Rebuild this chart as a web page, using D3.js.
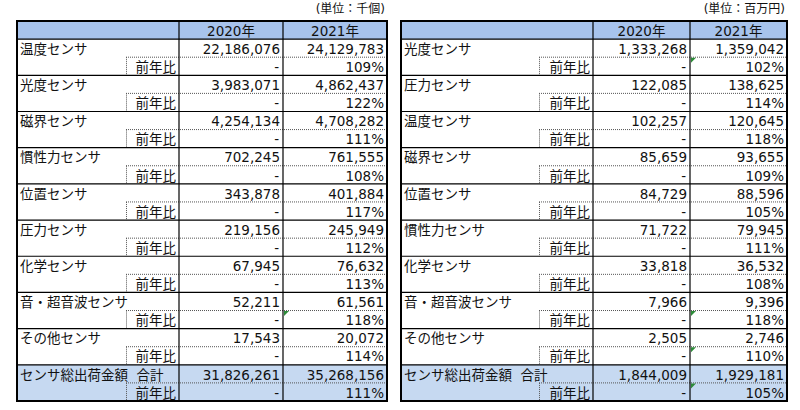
<!DOCTYPE html>
<html>
<head>
<meta charset="utf-8">
<script src="https://cdn.jsdelivr.net/npm/d3@7"></script>
<style>
  body { margin: 0; background: #fff; }
  svg text { font-family: "DejaVu Sans", "Noto Sans CJK JP", sans-serif; font-size: 13.5px; fill: #111; white-space: pre; }
</style>
</head>
<body>
<svg id="chart" width="800" height="410"></svg>
<script>
// 出荷数量 (千個)
const qtyNames = ['温度センサ', '光度センサ', '磁界センサ', '慣性力センサ', '位置センサ', '圧力センサ', '化学センサ', '音・超音波センサ', 'その他センサ'];
const qty2020 = [22186076, 3983071, 4254134, 702245, 343878, 219156, 67945, 52211, 17543];
const qty2021 = [24129783, 4862437, 4708282, 761555, 401884, 245949, 76632, 61561, 20072];
const qtyRatio = [109, 122, 111, 108, 117, 112, 113, 118, 114];
const qtyTotal = [31826261, 35268156];
const qtyTotalRatio = 111;
const qtyFlags = [7];          // rows with green marker on 2021 前年比

// 出荷金額 (百万円)
const amtNames = ['光度センサ', '圧力センサ', '温度センサ', '磁界センサ', '位置センサ', '慣性力センサ', '化学センサ', '音・超音波センサ', 'その他センサ'];
const amt2020 = [1333268, 122085, 102257, 85659, 84729, 71722, 33818, 7966, 2505];
const amt2021 = [1359042, 138625, 120645, 93655, 88596, 79945, 36532, 9396, 2746];
const amtRatio = [102, 114, 118, 109, 105, 111, 108, 118, 110];
const amtTotal = [1844009, 1929181];
const amtTotalRatio = 105;
const amtFlags = [0, 7, 8, 9];

const years = ['2020年', '2021年'];
const totalLabel = 'センサ総出荷金額  合計';
const ratioLabel = '前年比';

const svg = d3.select('#chart');
const fmt = d3.format(',');

function drawTable(opt) {
  const g = svg.append('g');
  const nRows = 1 + (opt.names.length + 1) * 2;
  const y = d3.scaleLinear().domain([0, nRows]).range([21, 401]);
  const x = opt.cols; // [left, sub, c1, c2, right]
  const rh = y(1) - y(0);

  // unit note
  g.append('text')
    .attr('x', x[4] - 2).attr('y', 13)
    .attr('text-anchor', 'end')
    .style('font-size', '12px')
    .text(opt.unit);

  // header fill
  g.append('rect')
    .attr('x', x[0]).attr('y', y(0))
    .attr('width', x[4] - x[0]).attr('height', rh)
    .attr('fill', '#a7c3ec');

  // total fill
  const tIdx = opt.names.length;
  g.append('rect')
    .attr('x', x[0]).attr('y', y(1 + tIdx * 2))
    .attr('width', x[4] - x[0]).attr('height', rh * 2)
    .attr('fill', '#c6d9f1');

  years.forEach((yr, i) => {
    g.append('text')
      .attr('x', (x[2 + i] + x[3 + i]) / 2).attr('y', y(0.5) + 1)
      .attr('dy', '0.35em').attr('text-anchor', 'middle')
      .text(yr);
  });

  const rows = opt.names.map((n, i) => ({
    name: n, a: opt.v2020[i], b: opt.v2021[i], r: opt.ratio[i]
  }));
  rows.push({ name: totalLabel, a: opt.total[0], b: opt.total[1], r: opt.totalRatio });

  rows.forEach((d, i) => {
    const r0 = 1 + i * 2;
    const ty = y(r0 + 0.5) + 1;
    const ty2 = y(r0 + 1.5) + 1;
    g.append('text').attr('x', x[0] + 3).attr('y', ty).attr('dy', '0.35em').text(d.name);
    g.append('text').attr('x', x[2] - 3).attr('y', ty2).attr('dy', '0.35em')
      .attr('text-anchor', 'end').text(ratioLabel);
    g.append('text').attr('x', x[3] - 3).attr('y', ty).attr('dy', '0.35em')
      .attr('text-anchor', 'end').text(fmt(d.a));
    g.append('text').attr('x', x[4] - 3).attr('y', ty).attr('dy', '0.35em')
      .attr('text-anchor', 'end').text(fmt(d.b));
    g.append('text').attr('x', x[3] - 4).attr('y', ty2).attr('dy', '0.35em')
      .attr('text-anchor', 'end').text('-');
    g.append('text').attr('x', x[4] - 3).attr('y', ty2).attr('dy', '0.35em')
      .attr('text-anchor', 'end').text(d.r + '%');

    // dotted lines for 前年比 sub row
    g.append('line')
      .attr('x1', x[1]).attr('x2', x[4])
      .attr('y1', y(r0 + 1)).attr('y2', y(r0 + 1))
      .attr('stroke', '#555').attr('stroke-dasharray', '1,1');
    g.append('line')
      .attr('x1', x[1] + 0.5).attr('x2', x[1] + 0.5)
      .attr('y1', y(r0 + 1)).attr('y2', y(r0 + 2))
      .attr('stroke', '#555').attr('stroke-dasharray', '1,1');

    // solid group separators
    g.append('line')
      .attr('x1', x[0]).attr('x2', x[4])
      .attr('y1', y(r0)).attr('y2', y(r0))
      .attr('stroke', '#000').attr('stroke-width', 1.2);

    if (opt.flags.includes(i)) {
      const fx = x[3] + 1, fy = y(r0 + 1) + 0.5;
      g.append('path')
        .attr('d', `M${fx},${fy}L${fx + 5},${fy}L${fx},${fy + 5}Z`)
        .attr('fill', '#2e8b3a');
    }
  });

  // vertical column lines
  [x[2], x[3]].forEach(cx => {
    g.append('line')
      .attr('x1', cx).attr('x2', cx)
      .attr('y1', y(0)).attr('y2', y(nRows))
      .attr('stroke', '#000').attr('stroke-width', 1.2);
  });

  // outer border
  g.append('rect')
    .attr('x', x[0]).attr('y', y(0))
    .attr('width', x[4] - x[0]).attr('height', y(nRows) - y(0))
    .attr('fill', 'none').attr('stroke', '#000').attr('stroke-width', 2);
}

drawTable({
  names: qtyNames, v2020: qty2020, v2021: qty2021, ratio: qtyRatio,
  total: qtyTotal, totalRatio: qtyTotalRatio, flags: qtyFlags,
  unit: '(単位：千個)', cols: [17, 126, 179, 283, 387]
});

drawTable({
  names: amtNames, v2020: amt2020, v2021: amt2021, ratio: amtRatio,
  total: amtTotal, totalRatio: amtTotalRatio, flags: amtFlags,
  unit: '(単位：百万円)', cols: [401, 539, 593, 690, 787]
});
</script>
</body>
</html>
